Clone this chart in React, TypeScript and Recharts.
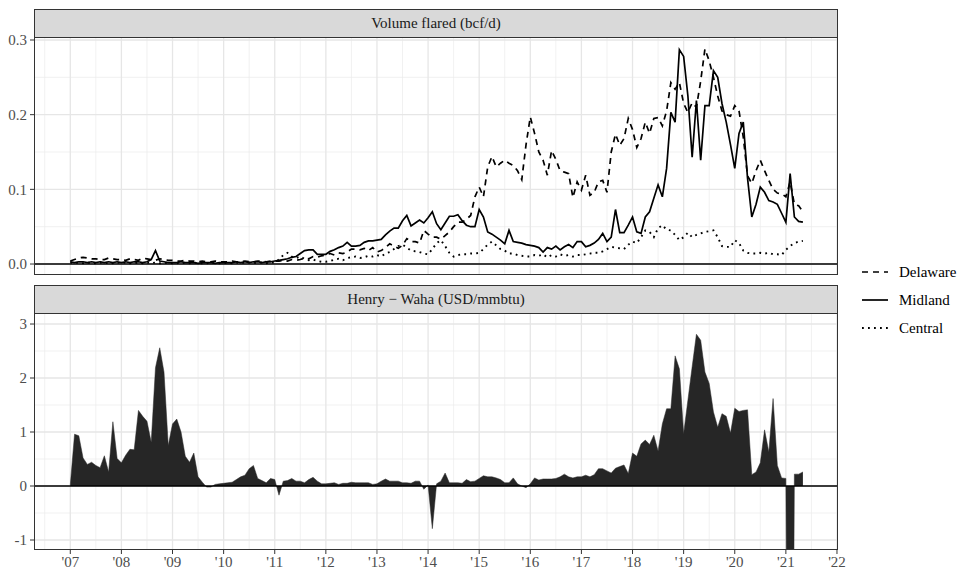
import { ComposedChart, Line, Area, XAxis, YAxis, CartesianGrid, ReferenceLine } from 'recharts'

// monthly series, Jan 2007 .. May 2021
const START_YEAR = 2007

const delaware = [
  0.004, 0.006, 0.008, 0.009, 0.008, 0.007, 0.007, 0.006, 0.006, 0.008, 0.007, 0.006,
  0.006, 0.005, 0.007, 0.006, 0.005, 0.008, 0.007, 0.006, 0.005, 0.007, 0.006, 0.005,
  0.005, 0.004, 0.004, 0.005, 0.004, 0.004, 0.003, 0.004, 0.003, 0.003, 0.004, 0.003,
  0.003, 0.003, 0.004, 0.003, 0.003, 0.004, 0.003, 0.003, 0.004, 0.004, 0.003, 0.004,
  0.004, 0.004, 0.005, 0.004, 0.006, 0.005, 0.006, 0.008, 0.007, 0.010, 0.009, 0.011,
  0.012, 0.014, 0.012, 0.015, 0.014, 0.016, 0.020, 0.020, 0.019, 0.021, 0.018, 0.022,
  0.016, 0.018, 0.022, 0.027, 0.024, 0.021, 0.025, 0.034, 0.030, 0.030, 0.028, 0.045,
  0.040, 0.036, 0.036, 0.033, 0.038, 0.043, 0.050, 0.056, 0.056, 0.060, 0.065, 0.090,
  0.103, 0.090, 0.130, 0.144, 0.130, 0.135, 0.139, 0.135, 0.132, 0.125, 0.113, 0.160,
  0.197, 0.175, 0.150, 0.139, 0.119, 0.152, 0.140, 0.125, 0.123, 0.121, 0.089, 0.110,
  0.099, 0.119, 0.092, 0.096, 0.110, 0.112, 0.096, 0.150, 0.174, 0.159, 0.168, 0.195,
  0.180, 0.156, 0.168, 0.190, 0.175, 0.195, 0.196, 0.185, 0.205, 0.243, 0.234, 0.243,
  0.215, 0.203, 0.216, 0.210, 0.245, 0.288, 0.272, 0.250, 0.225, 0.205, 0.200, 0.198,
  0.212, 0.205, 0.170, 0.118, 0.108, 0.125, 0.139, 0.125, 0.112, 0.100, 0.095, 0.094,
  0.090, 0.110, 0.080, 0.078, 0.070,
]

const midland = [
  0.003, 0.002, 0.003, 0.003, 0.002, 0.003, 0.002, 0.003, 0.002, 0.003, 0.002, 0.003,
  0.002, 0.003, 0.002, 0.003, 0.003, 0.002, 0.003, 0.006, 0.018, 0.004, 0.003, 0.002,
  0.002, 0.002, 0.003, 0.002, 0.002, 0.002, 0.001, 0.002, 0.002, 0.002, 0.001, 0.002,
  0.002, 0.002, 0.002, 0.003, 0.002, 0.003, 0.002, 0.003, 0.003, 0.002, 0.003, 0.003,
  0.004, 0.005, 0.006, 0.007, 0.009, 0.010, 0.014, 0.018, 0.019, 0.019, 0.013, 0.013,
  0.013, 0.017, 0.019, 0.022, 0.024, 0.029, 0.024, 0.024, 0.025, 0.029, 0.031, 0.031,
  0.032, 0.033, 0.039, 0.044, 0.048, 0.048, 0.058, 0.065, 0.051, 0.055, 0.059, 0.055,
  0.062, 0.070, 0.054, 0.046, 0.055, 0.064, 0.064, 0.066, 0.058, 0.052, 0.050, 0.050,
  0.073, 0.063, 0.043, 0.040, 0.036, 0.032, 0.027, 0.045, 0.030, 0.029, 0.028, 0.026,
  0.025, 0.024, 0.022, 0.016, 0.022, 0.020, 0.024, 0.019, 0.023, 0.026, 0.022, 0.030,
  0.030, 0.023, 0.025, 0.028, 0.033, 0.041, 0.030, 0.036, 0.073, 0.042, 0.042, 0.052,
  0.063, 0.043, 0.041, 0.063, 0.070, 0.088, 0.106, 0.090, 0.128, 0.203, 0.190, 0.287,
  0.278, 0.225, 0.143, 0.219, 0.139, 0.212, 0.212, 0.259, 0.250, 0.215, 0.190, 0.160,
  0.128, 0.175, 0.190, 0.115, 0.063, 0.080, 0.103, 0.096, 0.085, 0.083, 0.080, 0.068,
  0.056, 0.121, 0.063, 0.057, 0.056,
]

const central = [
  0.002, 0.001, 0.002, 0.001, 0.002, 0.001, 0.001, 0.002, 0.001, 0.002, 0.001, 0.002,
  0.001, 0.002, 0.001, 0.001, 0.002, 0.001, 0.002, 0.001, 0.002, 0.001, 0.001, 0.002,
  0.001, 0.001, 0.002, 0.001, 0.001, 0.002, 0.001, 0.001, 0.001, 0.002, 0.001, 0.001,
  0.001, 0.002, 0.001, 0.002, 0.001, 0.002, 0.002, 0.001, 0.002, 0.002, 0.001, 0.002,
  0.002, 0.006, 0.012, 0.015, 0.010, 0.008, 0.010, 0.007, 0.005, 0.006, 0.004, 0.003,
  0.003, 0.004, 0.006, 0.007, 0.005, 0.008, 0.009, 0.010, 0.008, 0.009, 0.011, 0.010,
  0.012, 0.010, 0.014, 0.016, 0.020, 0.024, 0.026, 0.022, 0.018, 0.017, 0.016, 0.014,
  0.013, 0.020, 0.028, 0.032, 0.024, 0.015, 0.010, 0.012, 0.013, 0.013, 0.014, 0.014,
  0.015, 0.020, 0.026, 0.030, 0.025, 0.020, 0.018, 0.014, 0.014, 0.012, 0.011, 0.010,
  0.010, 0.012, 0.011, 0.013, 0.009, 0.012, 0.010, 0.013, 0.011, 0.012, 0.010, 0.012,
  0.012, 0.013, 0.014, 0.015, 0.015, 0.017, 0.020, 0.023, 0.022, 0.021, 0.020, 0.026,
  0.030, 0.028, 0.036, 0.045, 0.043, 0.036, 0.048, 0.052, 0.046, 0.045, 0.039, 0.032,
  0.036, 0.042, 0.036, 0.039, 0.041, 0.043, 0.044, 0.045, 0.036, 0.024, 0.023, 0.023,
  0.032, 0.028, 0.018, 0.015, 0.014, 0.014, 0.015, 0.014, 0.015, 0.013, 0.013, 0.012,
  0.019, 0.024, 0.028, 0.030, 0.031,
]

// Henry Hub minus Waha, USD/mmbtu (Feb 2021 runs off the bottom of the panel)
const spread = [
  0.02, 0.96, 0.93, 0.52, 0.40, 0.44, 0.38, 0.34, 0.56, 0.26, 1.19, 0.51,
  0.43, 0.57, 0.68, 0.67, 1.40, 1.29, 1.20, 0.81, 2.19, 2.56, 2.11, 0.75,
  1.15, 1.24, 1.00, 0.55, 0.44, 0.61, 0.17, 0.07, -0.02, -0.02, 0.03, 0.04,
  0.05, 0.06, 0.07, 0.12, 0.17, 0.20, 0.32, 0.38, 0.14, 0.10, 0.06, 0.14,
  0.12, -0.17, 0.09, 0.10, 0.14, 0.09, 0.09, 0.06, 0.12, 0.16, 0.09, 0.04,
  0.04, 0.05, 0.06, 0.03, 0.05, 0.05, 0.07, 0.06, 0.06, 0.06, 0.06, 0.03,
  0.04, 0.09, 0.13, 0.09, 0.09, 0.09, 0.06, 0.06, 0.05, 0.09, 0.09, -0.06,
  0.02, -0.79, 0.04, 0.09, 0.24, 0.06, 0.06, 0.06, 0.05, 0.12, 0.08, 0.09,
  0.14, 0.19, 0.17, 0.17, 0.15, 0.12, 0.06, 0.06, 0.15, 0.04, 0.00, -0.03,
  0.04, 0.15, 0.11, 0.13, 0.13, 0.13, 0.14, 0.17, 0.22, 0.17, 0.15, 0.17,
  0.17, 0.20, 0.17, 0.21, 0.32, 0.32, 0.28, 0.24, 0.33, 0.36, 0.39, 0.23,
  0.61, 0.55, 0.78, 0.85, 0.77, 0.94, 0.65, 1.15, 1.43, 1.43, 2.41, 2.17,
  0.97, 1.59, 2.21, 2.81, 2.70, 2.11, 1.90, 1.37, 1.09, 1.34, 1.29, 0.98,
  1.44, 1.38, 1.40, 1.41, 0.21, 0.26, 0.43, 1.04, 0.63, 1.62, 0.38, 0.15,
  0.14, -14, 0.22, 0.22, 0.26,
]

const yearTicks = [2007, 2008, 2009, 2010, 2011, 2012, 2013, 2014, 2015, 2016, 2017, 2018, 2019, 2020, 2021, 2022]
const halfYears = yearTicks.map(y => y - 0.5)
const flareTicks = [0, 0.1, 0.2, 0.3]
const flareMinor = [0.05, 0.15, 0.25]
const spreadTicks = [-1, 0, 1, 2, 3]
const spreadMinor = [-0.5, 0.5, 1.5, 2.5]

const rows = delaware.map((d, i) => ({
  t: START_YEAR + i / 12,
  delaware: d,
  midland: midland[i],
  central: central[i],
  spread: spread[i],
}))

const FONT = '"Liberation Serif", "Times New Roman", serif'
const X_DOMAIN: [number, number] = [2006.29, 2022.02]
const CHART_W = 846
const PLOT_L = 34
const PLOT_W = 804
const PAD = 10 // room above each panel so the top tick label is not clipped
const tickStyle = { fill: '#4D4D4D', fontSize: 15, fontFamily: FONT }

function Strip({ top, label }: { top: number; label: string }) {
  return (
    <div style={{
      position: 'absolute', left: PLOT_L, top, width: PLOT_W, height: 29, boxSizing: 'border-box',
      background: '#D9D9D9', border: '1px solid #333', color: '#1A1A1A', fontSize: 15,
      display: 'flex', alignItems: 'center', justifyContent: 'center',
    }}>{label}</div>
  )
}

function Border({ top, height }: { top: number; height: number }) {
  return (
    <div style={{
      position: 'absolute', left: PLOT_L, top, width: PLOT_W, height, boxSizing: 'border-box',
      border: '1px solid #333', pointerEvents: 'none',
    }} />
  )
}

const legendItems = [
  { label: 'Delaware', dash: '6 5', width: 1.7 },
  { label: 'Midland', dash: undefined, width: 1.7 },
  { label: 'Central', dash: '1.8 4.2', width: 1.9 },
]

export default function App() {
  return (
    <div style={{ position: 'absolute', left: 0, top: 0, width: 959, height: 572, background: '#fff', fontFamily: FONT }}>
      <div style={{ position: 'absolute', left: 0, top: 37 - PAD }}>
        <ComposedChart width={CHART_W} height={238 + PAD} data={rows} margin={{ top: PAD, right: 8, bottom: 0, left: 0 }}>
          <CartesianGrid verticalValues={halfYears} horizontalValues={flareMinor} stroke="#EBEBEB" strokeWidth={0.7} />
          <CartesianGrid verticalValues={yearTicks} horizontalValues={flareTicks} stroke="#E6E6E6" strokeWidth={1.3} />
          <XAxis type="number" dataKey="t" domain={X_DOMAIN} allowDataOverflow hide />
          <YAxis type="number" domain={[-0.0147, 0.304]} allowDataOverflow ticks={flareTicks} interval={0}
            tickFormatter={(v: number) => v.toFixed(1)} width={34} tickSize={4} tickMargin={3}
            axisLine={false} tickLine={{ stroke: '#333' }} tick={tickStyle} />
          <ReferenceLine y={0} stroke="#000" strokeWidth={1.4} />
          <Line type="linear" dataKey="central" stroke="#000" strokeWidth={1.9} strokeDasharray="1.8 4.2"
            dot={false} activeDot={false} isAnimationActive={false} />
          <Line type="linear" dataKey="midland" stroke="#000" strokeWidth={1.7}
            dot={false} activeDot={false} isAnimationActive={false} />
          <Line type="linear" dataKey="delaware" stroke="#000" strokeWidth={1.7} strokeDasharray="6 5"
            dot={false} activeDot={false} isAnimationActive={false} />
        </ComposedChart>
      </div>
      <Strip top={9} label="Volume flared (bcf/d)" />
      <Border top={37} height={238} />

      <div style={{ position: 'absolute', left: 0, top: 313 - PAD }}>
        <ComposedChart width={CHART_W} height={259 + PAD} data={rows} margin={{ top: PAD, right: 8, bottom: 0, left: 0 }}>
          <CartesianGrid verticalValues={halfYears} horizontalValues={spreadMinor} stroke="#EBEBEB" strokeWidth={0.7} />
          <CartesianGrid verticalValues={yearTicks} horizontalValues={spreadTicks} stroke="#E6E6E6" strokeWidth={1.3} />
          <XAxis type="number" dataKey="t" domain={X_DOMAIN} allowDataOverflow ticks={yearTicks} interval={0}
            tickFormatter={(y: number) => "'" + String(y).slice(2)} height={22} tickSize={4} tickMargin={2}
            axisLine={false} tickLine={{ stroke: '#333' }} tick={tickStyle} />
          <YAxis type="number" domain={[-1.185, 3.204]} allowDataOverflow ticks={spreadTicks} interval={0}
            width={34} tickSize={4} tickMargin={3}
            axisLine={false} tickLine={{ stroke: '#333' }} tick={tickStyle} />
          <Area type="linear" dataKey="spread" stroke="#262626" strokeWidth={0.5} fill="#262626" fillOpacity={1}
            dot={false} activeDot={false} isAnimationActive={false} />
          <ReferenceLine y={0} stroke="#000" strokeWidth={1.4} />
        </ComposedChart>
      </div>
      <Strip top={285} label="Henry − Waha (USD/mmbtu)" />
      <Border top={313} height={237} />

      <div style={{ position: 'absolute', left: 860, top: 258 }}>
        {legendItems.map(it => (
          <div key={it.label} style={{ display: 'flex', alignItems: 'center', height: 28 }}>
            <svg width={30} height={28}>
              <line x1={2} x2={28} y1={14} y2={14} stroke="#000" strokeWidth={it.width} strokeDasharray={it.dash} />
            </svg>
            <span style={{ marginLeft: 9, fontSize: 15, color: '#000' }}>{it.label}</span>
          </div>
        ))}
      </div>
    </div>
  )
}
